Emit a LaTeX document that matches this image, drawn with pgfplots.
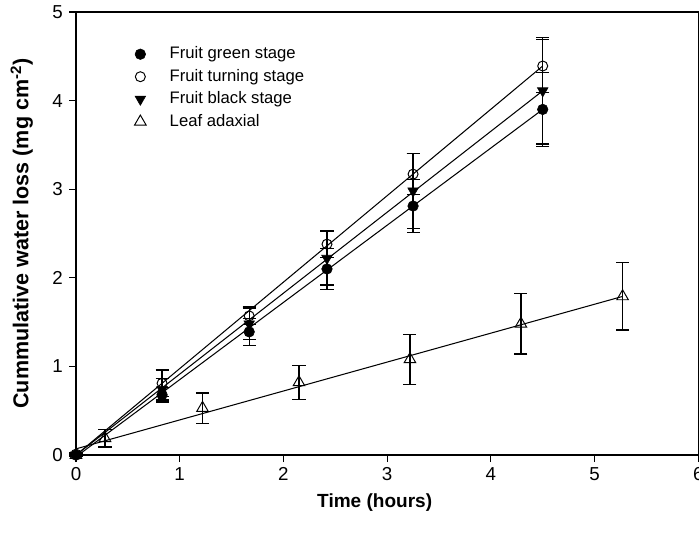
\documentclass[border=0pt]{standalone}
\usepackage{pgfplots}
\pgfplotsset{compat=1.18}
\usepackage{fontspec}
\setmainfont{Liberation Sans}
\begin{document}
\begin{tikzpicture}
\begin{axis}[
  name=ax,
  width=448pt, height=319pt, scale only axis,
  xmin=0, xmax=6, ymin=0, ymax=5,
  xtick={0,1,2,3,4,5,6}, ytick={0,1,2,3,4,5},
  tick align=outside, tick pos=left,
  major tick length=5pt,
  minor tick num=0,
  axis line style={line width=0.9pt},
  every tick/.style={line width=0.9pt, black},
  /pgf/number format/assume math mode=true,
  tick label style={font=\fontsize{13.5}{15}\selectfont},
  xticklabel style={yshift=-0.5pt},
  yticklabel style={xshift=-1pt},
  xlabel={\textbf{Time (hours)}},
  ylabel={\textbf{Cummulative water loss (mg cm\textsuperscript{-2})}},
  xlabel style={font=\fontsize{13.7}{16}\selectfont, at={(axis description cs:0.48,-0.108)}, anchor=center},
  ylabel style={font=\fontsize{15.5}{18}\selectfont, at={(axis description cs:-0.087,0.5)}, anchor=center},
  clip=false,
  legend style={draw=none, fill=none, at={(axis description cs:0.087,0.93)}, anchor=north west,
    font=\fontsize{12}{14}\selectfont, legend cell align=left,
    nodes={inner sep=0pt, text height=9pt, text depth=2.8pt},
    row sep=4.4pt,
    /tikz/every odd column/.append style={column sep=17pt}},
  error bars/y dir=both, error bars/y explicit,
  error bars/error bar style={line width=0.9pt, black},
  error bars/error mark options={line width=0.9pt, black, mark size=4.7pt, rotate=90},
]
% fitted lines
\addplot[black, line width=0.75pt, forget plot, no marks, error bars/y dir=none] coordinates {(0,-0.02) (4.5,3.90)};
\addplot[black, line width=0.75pt, forget plot, no marks, error bars/y dir=none] coordinates {(0,0.00) (4.5,4.39)};
\addplot[black, line width=0.75pt, forget plot, no marks, error bars/y dir=none] coordinates {(0,0.00) (4.5,4.11)};
\addplot[black, line width=0.75pt, forget plot, no marks, error bars/y dir=none] coordinates {(0,0.07) (5.27,1.79)};
% data
\addplot[only marks, mark=*, mark size=3.8pt, black, mark options={solid, fill=black}] table[x=x, y=y, y error=e] {
x y e
0 0 0.02
0.83 0.68 0.08
1.67 1.39 0.15
2.42 2.10 0.23
3.25 2.81 0.30
4.5 3.90 0.42
};
\addlegendentry{Fruit green stage}
\addplot[only marks, mark=o, mark size=3.6pt, black, mark options={solid, line width=0.7pt}] table[x=x, y=y, y error=e] {
x y e
0 0.01 0.02
0.83 0.81 0.15
1.67 1.57 0.10
2.42 2.38 0.15
3.25 3.17 0.23
4.5 4.39 0.30
};
\addlegendentry{Fruit turning stage}
\addplot[only marks, mark=triangle*, mark size=4.4pt, black, mark options={solid, fill=black, rotate=180}] table[x=x, y=y, y error=e] {
x y e
0 0 0.02
0.83 0.74 0.12
1.67 1.48 0.18
2.42 2.22 0.30
3.25 2.98 0.42
4.5 4.11 0.60
};
\addlegendentry{Fruit black stage}
\addplot[only marks, mark=triangle, mark size=4.8pt, black, mark options={solid, line width=0.7pt}] table[x=x, y=y, y error=e] {
x y e
0 0 0.02
0.28 0.19 0.10
1.22 0.53 0.17
2.15 0.82 0.19
3.22 1.08 0.28
4.29 1.48 0.34
5.27 1.79 0.38
};
\addlegendentry{Leaf adaxial}
\end{axis}
\pgfresetboundingbox
\path ([xshift=-54.7pt, yshift=-56.2pt]ax.south west) rectangle ([xshift=0.5pt, yshift=8.6pt]ax.north east);
\end{tikzpicture}
\end{document}
